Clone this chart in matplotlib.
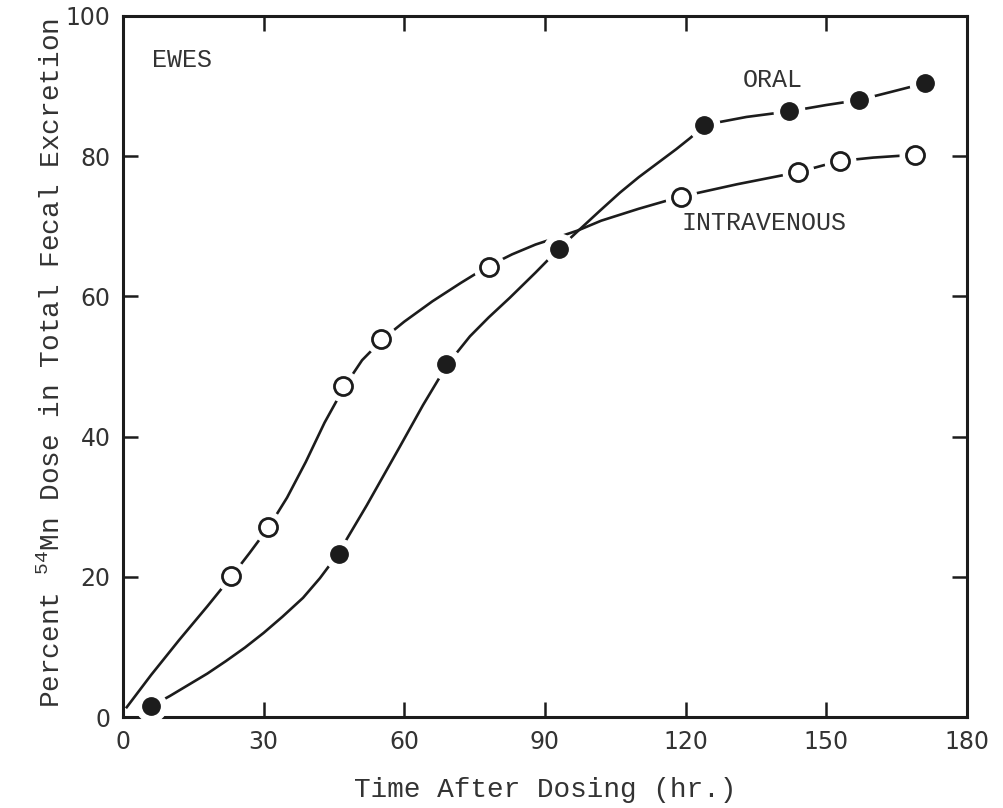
import matplotlib.pyplot as plt

# measured points: hours after dosing vs percent of 54Mn dose in feces
oral_t = [6, 46, 69, 93, 124, 142, 157, 171]
oral_pct = [1.6, 23.2, 50.3, 66.8, 84.5, 86.4, 88.0, 90.4]
iv_t = [23, 31, 47, 55, 78, 119, 144, 153, 169]
iv_pct = [20.1, 27.1, 47.2, 53.9, 64.2, 74.2, 77.7, 79.3, 80.2]

# hand drawn curves
oral_curve_t = [6.2, 10, 14, 18, 22, 26, 30, 34, 38.4, 42, 45.8, 52, 59, 64, 69.2, 74, 78, 82.5,
                88, 93, 97, 101.7, 106, 110, 114, 118, 121, 124.3, 133, 142.2, 150, 156.9, 164, 171]
oral_curve_pct = [1.6, 3.0, 4.6, 6.2, 8.0, 9.9, 12.0, 14.3, 17.0, 19.8, 23.2, 30.2, 38.5, 44.5, 50.3,
                  54.3, 57.0, 59.8, 63.4, 66.8, 69.3, 72.2, 74.8, 77.0, 79.0, 81.0, 82.6, 84.5,
                  85.6, 86.4, 87.3, 88.0, 89.2, 90.4]
iv_curve_t = [0.8, 6, 12, 18, 23.2, 27, 31.1, 35, 39, 43, 47.3, 51, 55.4, 60, 66, 72, 77.6, 83, 88,
              93, 97, 102, 110, 118.8, 131, 143.9, 152.7, 160, 168.9]
iv_curve_pct = [1.4, 6.0, 11.0, 15.8, 20.1, 23.4, 27.1, 31.3, 36.4, 42.0, 47.2, 50.9, 53.9, 56.4,
                59.3, 61.9, 64.2, 66.0, 67.4, 68.5, 69.4, 70.8, 72.5, 74.2, 76.0, 77.7, 79.3, 79.8, 80.2]

plt.rcParams['mathtext.fontset'] = 'custom'
plt.rcParams['mathtext.rm'] = 'Liberation Mono'
plt.rcParams['mathtext.it'] = 'Liberation Mono'

ink = '#1c1c1c'
txt = '#333333'
mono = 'Liberation Mono'

fig = plt.figure(figsize=(10.04, 8.08), dpi=100)
ax = fig.add_axes([0.1225, 0.1126, 0.8405, 0.8676])

# curves
ax.plot(oral_curve_t, oral_curve_pct, color=ink, lw=1.9, zorder=2)
ax.plot(iv_curve_t, iv_curve_pct, color=ink, lw=1.9, zorder=2)

# white halo round each marker, gives the gaps of the drawing
ax.plot(oral_t, oral_pct, 'o', ms=22, color='white', mec='white', zorder=3, clip_on=False)
ax.plot(iv_t, iv_pct, 'o', ms=22, color='white', mec='white', zorder=3, clip_on=False)
ax.plot(oral_t, oral_pct, 'o', ms=12.5, color=ink, mec=ink, zorder=4, clip_on=False)
ax.plot(iv_t, iv_pct, 'o', ms=13, mfc='white', mec=ink, mew=2.0, zorder=4, clip_on=False)

ax.set_xlim(0, 180)
ax.set_ylim(0, 100)
ax.set_xticks([0, 30, 60, 90, 120, 150, 180])
ax.set_yticks([0, 20, 40, 60, 80, 100])
ax.tick_params(direction='in', length=11, width=1.8, color=ink,
               top=True, right=True, labelsize=17, labelcolor=txt, pad=9)
for s in ax.spines.values():
    s.set_linewidth(2.2)
    s.set_color(ink)

ax.text(6.2, 93.7, 'EWES', family=mono, fontsize=18, color=txt, va='center')
ax.text(132.2, 90.9, 'ORAL', family=mono, fontsize=18, color=txt, va='center')
ax.text(119.2, 70.5, 'INTRAVENOUS', family=mono, fontsize=18, color=txt, va='center')

ax.set_xlabel('Time After Dosing (hr.)', family=mono, fontsize=20, color=txt, labelpad=17)
ylab = ax.set_ylabel(r'Percent $^{\mathrm{54}}$Mn Dose in Total Fecal Excretion', family=mono,
                     fontsize=20, color=txt, va='center')
ax.yaxis.set_label_coords(-0.084, 0.505)

fig.savefig('out.png', dpi=100)
